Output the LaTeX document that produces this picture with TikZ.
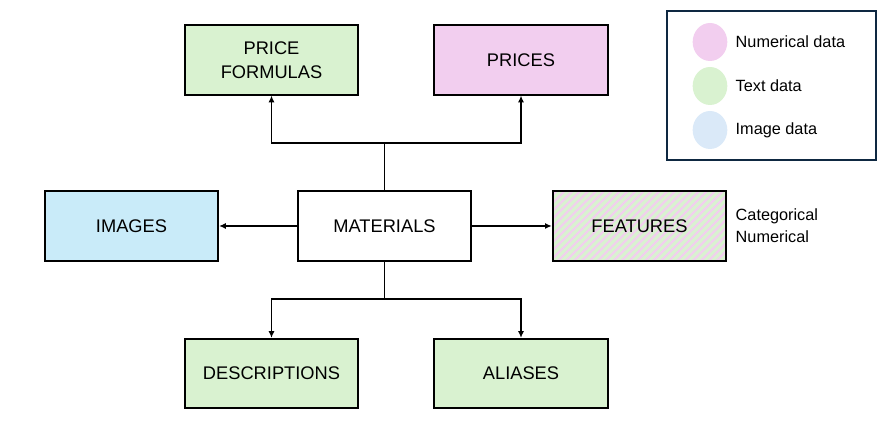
\documentclass[tikz,border=0pt]{standalone}
\usepackage{fontspec}
\setmainfont{Liberation Sans}
\usetikzlibrary{arrows.meta,patterns.meta,shapes.geometric}
\definecolor{textgreen}{HTML}{D9F2D0}
\definecolor{numpink}{HTML}{F2CEEF}
\definecolor{imgblue}{HTML}{C9EBF9}
\definecolor{legblue}{HTML}{DAE9F8}
\definecolor{legframe}{HTML}{0E2841}
\tikzset{
  box/.style={draw, line width=1.4pt, minimum width=130pt, minimum height=52pt,
    align=center, font=\fontsize{13.7}{18}\selectfont},
  legendtext/.style={right, align=left, font=\fontsize{12.2}{16.5}\selectfont},
  dot/.style={ellipse, minimum width=26pt, minimum height=28.5pt, inner sep=0pt},
  link/.style={line width=1.3pt, -{Latex[length=5pt,width=4.5pt]}},
  trunk/.style={line width=1.3pt}
}
\begin{document}
\begin{tikzpicture}[x=0.75pt,y=-0.75pt]
    \useasboundingbox (0,0) rectangle (894,423);
    % data boxes
    \node[box,fill=textgreen] (formulas) at (271.5,60) {PRICE\\FORMULAS};
    \node[box,fill=numpink] (prices) at (521,60) {PRICES};
    \node[box,fill=imgblue] (images) at (131.5,226) {IMAGES};
    \node[box] (materials) at (384.5,226) {MATERIALS};
    \node[box,preaction={fill=textgreen},
      pattern={Lines[angle=45,distance=4.2pt,line width=1.6pt]},
      pattern color=numpink] (features) at (639.5,226) {FEATURES};
    \node[box,fill=textgreen] (descriptions) at (271.5,373.5) {DESCRIPTIONS};
    \node[box,fill=textgreen] (aliases) at (521,373.5) {ALIASES};
    \node[legendtext] (kinds) at (731,226) {Categorical\\Numerical};
    % connectors
    \coordinate (top) at (384.5,143);
    \coordinate (bottom) at (384.5,299);
    \draw[trunk] (materials) -- (top);
    \draw[link] (top) -| (formulas);
    \draw[link] (top) -| (prices);
    \draw[trunk] (materials) -- (bottom);
    \draw[link] (bottom) -| (descriptions);
    \draw[link] (bottom) -| (aliases);
    \draw[link] (materials) -- (images);
    \draw[link] (materials) -- (features);
    % legend
    \node[draw=legframe, line width=1.4pt, minimum width=156.5pt, minimum height=111.5pt]
      (legend) at (771.5,85.5) {};
    \node[dot,fill=numpink] (numdot) at (710,42) {};
    \node[dot,fill=textgreen] (textdot) at (710,86) {};
    \node[dot,fill=legblue] (imgdot) at (710,130) {};
    \node[legendtext] (numlabel) at (731,42) {Numerical data};
    \node[legendtext] (textlabel) at (731,86) {Text data};
    \node[legendtext] (imglabel) at (731,130) {Image data};
\end{tikzpicture}
\end{document}
